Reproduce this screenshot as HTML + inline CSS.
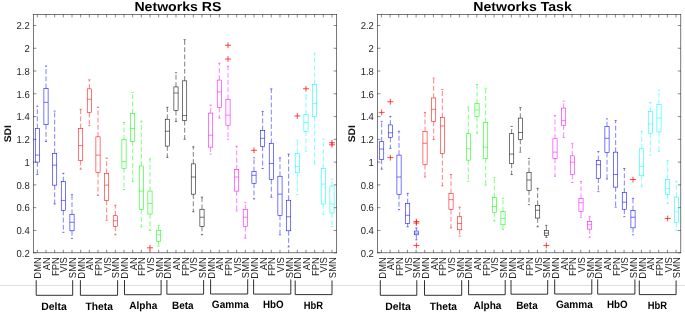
<!DOCTYPE html>
<html lang="en">
<head>
<meta charset="utf-8">
<title>Networks RS / Networks Task SDI boxplots</title>
<style>
html,body{margin:0;padding:0;background:#ffffff}
body{width:685px;height:314px;overflow:hidden}
svg{display:block}
</style>
</head>
<body>
<svg width="685" height="314" viewBox="0 0 685 314">
<style>
text{font-family:"Liberation Sans",sans-serif;fill:#262626;text-rendering:geometricPrecision}
.tl{font-size:9.5px}
.xl{font-size:9.43px}
.yl{font-size:10.4px;font-weight:bold;fill:#111}
.ti{font-size:14.1px;font-weight:bold;fill:#000}
.gl{font-size:10.7px;font-weight:bold;fill:#000}
path{fill:none}
</style>
<rect x="0" y="0" width="685" height="314" fill="#ffffff" stroke="none"/>
<path d="M0 285.5H685" stroke="#dedede" stroke-width="1"/>
<g transform="translate(0,0)">
<rect x="33.3" y="14.4" width="303.4" height="238.4" fill="none" stroke="#262626" stroke-width="0.62"/>
<path d="M37.33 252.8v-3M37.33 14.4v3M46 252.8v-3M46 14.4v3M54.66 252.8v-3M54.66 14.4v3M63.33 252.8v-3M63.33 14.4v3M72 252.8v-3M72 14.4v3M80.66 252.8v-3M80.66 14.4v3M89.33 252.8v-3M89.33 14.4v3M98 252.8v-3M98 14.4v3M106.66 252.8v-3M106.66 14.4v3M115.33 252.8v-3M115.33 14.4v3M123.99 252.8v-3M123.99 14.4v3M132.66 252.8v-3M132.66 14.4v3M141.32 252.8v-3M141.32 14.4v3M149.99 252.8v-3M149.99 14.4v3M158.66 252.8v-3M158.66 14.4v3M167.32 252.8v-3M167.32 14.4v3M175.99 252.8v-3M175.99 14.4v3M184.66 252.8v-3M184.66 14.4v3M193.32 252.8v-3M193.32 14.4v3M201.99 252.8v-3M201.99 14.4v3M210.65 252.8v-3M210.65 14.4v3M219.32 252.8v-3M219.32 14.4v3M227.99 252.8v-3M227.99 14.4v3M236.65 252.8v-3M236.65 14.4v3M245.32 252.8v-3M245.32 14.4v3M253.98 252.8v-3M253.98 14.4v3M262.65 252.8v-3M262.65 14.4v3M271.31 252.8v-3M271.31 14.4v3M279.98 252.8v-3M279.98 14.4v3M288.65 252.8v-3M288.65 14.4v3M297.31 252.8v-3M297.31 14.4v3M305.98 252.8v-3M305.98 14.4v3M314.65 252.8v-3M314.65 14.4v3M323.31 252.8v-3M323.31 14.4v3M331.98 252.8v-3M331.98 14.4v3M33.3 252.8h3M336.7 252.8h-3M33.3 230.43h3M336.7 230.43h-3M33.3 207.66h3M336.7 207.66h-3M33.3 184.89h3M336.7 184.89h-3M33.3 162.12h3M336.7 162.12h-3M33.3 139.35h3M336.7 139.35h-3M33.3 116.58h3M336.7 116.58h-3M33.3 93.81h3M336.7 93.81h-3M33.3 71.04h3M336.7 71.04h-3M33.3 48.27h3M336.7 48.27h-3M33.3 25.5h3M336.7 25.5h-3" stroke="#262626" stroke-width="0.55" fill="none"/>
<g class="tl" text-anchor="end">
<text transform="translate(29.8,257.45) scale(1,1.07)">0.2</text>
<text transform="translate(29.8,234.18) scale(1,1.07)">0.4</text>
<text transform="translate(29.8,211.41) scale(1,1.07)">0.6</text>
<text transform="translate(29.8,188.64) scale(1,1.07)">0.8</text>
<text transform="translate(29.8,165.87) scale(1,1.07)">1</text>
<text transform="translate(29.8,143.1) scale(1,1.07)">1.2</text>
<text transform="translate(29.8,120.33) scale(1,1.07)">1.4</text>
<text transform="translate(29.8,97.56) scale(1,1.07)">1.6</text>
<text transform="translate(29.8,74.79) scale(1,1.07)">1.8</text>
<text transform="translate(29.8,52.02) scale(1,1.07)">2</text>
<text transform="translate(29.8,29.25) scale(1,1.07)">2.2</text>
</g>
<g class="xl" text-anchor="end">
<text transform="translate(41.48,257.2) rotate(-90) scale(1,1.077)">DMN</text>
<text transform="translate(50.15,257.2) rotate(-90) scale(1,1.077)">AN</text>
<text transform="translate(58.82,257.2) rotate(-90) scale(1,1.077)">FPN</text>
<text transform="translate(67.48,257.2) rotate(-90) scale(1,1.077)">VIS</text>
<text transform="translate(76.15,257.2) rotate(-90) scale(1,1.077)">SMN</text>
<text transform="translate(84.81,257.2) rotate(-90) scale(1,1.077)">DMN</text>
<text transform="translate(93.48,257.2) rotate(-90) scale(1,1.077)">AN</text>
<text transform="translate(102.15,257.2) rotate(-90) scale(1,1.077)">FPN</text>
<text transform="translate(110.81,257.2) rotate(-90) scale(1,1.077)">VIS</text>
<text transform="translate(119.48,257.2) rotate(-90) scale(1,1.077)">SMN</text>
<text transform="translate(128.14,257.2) rotate(-90) scale(1,1.077)">DMN</text>
<text transform="translate(136.81,257.2) rotate(-90) scale(1,1.077)">AN</text>
<text transform="translate(145.47,257.2) rotate(-90) scale(1,1.077)">FPN</text>
<text transform="translate(154.14,257.2) rotate(-90) scale(1,1.077)">VIS</text>
<text transform="translate(162.81,257.2) rotate(-90) scale(1,1.077)">SMN</text>
<text transform="translate(171.47,257.2) rotate(-90) scale(1,1.077)">DMN</text>
<text transform="translate(180.14,257.2) rotate(-90) scale(1,1.077)">AN</text>
<text transform="translate(188.8,257.2) rotate(-90) scale(1,1.077)">FPN</text>
<text transform="translate(197.47,257.2) rotate(-90) scale(1,1.077)">VIS</text>
<text transform="translate(206.14,257.2) rotate(-90) scale(1,1.077)">SMN</text>
<text transform="translate(214.8,257.2) rotate(-90) scale(1,1.077)">DMN</text>
<text transform="translate(223.47,257.2) rotate(-90) scale(1,1.077)">AN</text>
<text transform="translate(232.13,257.2) rotate(-90) scale(1,1.077)">FPN</text>
<text transform="translate(240.8,257.2) rotate(-90) scale(1,1.077)">VIS</text>
<text transform="translate(249.47,257.2) rotate(-90) scale(1,1.077)">SMN</text>
<text transform="translate(258.13,257.2) rotate(-90) scale(1,1.077)">DMN</text>
<text transform="translate(266.8,257.2) rotate(-90) scale(1,1.077)">AN</text>
<text transform="translate(275.46,257.2) rotate(-90) scale(1,1.077)">FPN</text>
<text transform="translate(284.13,257.2) rotate(-90) scale(1,1.077)">VIS</text>
<text transform="translate(292.8,257.2) rotate(-90) scale(1,1.077)">SMN</text>
<text transform="translate(301.46,257.2) rotate(-90) scale(1,1.077)">DMN</text>
<text transform="translate(310.13,257.2) rotate(-90) scale(1,1.077)">AN</text>
<text transform="translate(318.8,257.2) rotate(-90) scale(1,1.077)">FPN</text>
<text transform="translate(327.46,257.2) rotate(-90) scale(1,1.077)">VIS</text>
<text transform="translate(336.13,257.2) rotate(-90) scale(1,1.077)">SMN</text>
</g>
<text class="yl" transform="translate(11.1,133.7) rotate(-90) scale(1,0.93)" text-anchor="middle">SDI</text>
<text class="ti" transform="translate(177.9,10.8) scale(1,0.92)" text-anchor="middle">Networks RS</text>
<g stroke="#0000ff" stroke-width="0.54" fill="none">
<path d="M37.33 128.49V106.11M37.33 162.07V174.52" stroke-dasharray="4.8 2.4" stroke-width="0.5"/>
<path d="M36.23 106.11h2.2M36.23 174.52h2.2M35.23 155.1H39.43"/>
<rect x="35.23" y="128.49" width="4.2" height="33.57"/>
</g>
<g stroke="#0000ff" stroke-width="0.54" fill="none">
<path d="M46 88.41V66.03M46 124.73V141.51" stroke-dasharray="4.8 2.4" stroke-width="0.5"/>
<path d="M44.9 66.03h2.2M44.9 141.51h2.2M43.9 102.34H48.1"/>
<rect x="43.9" y="88.41" width="4.2" height="36.32"/>
</g>
<g stroke="#0000ff" stroke-width="0.54" fill="none">
<path d="M54.66 153.28V111.14M54.66 185.14V203.98" stroke-dasharray="4.8 2.4" stroke-width="0.5"/>
<path d="M53.56 111.14h2.2M53.56 203.98h2.2M52.56 165.15H56.77"/>
<rect x="52.56" y="153.28" width="4.2" height="31.86"/>
</g>
<g stroke="#0000ff" stroke-width="0.54" fill="none">
<path d="M63.33 181.6V173.26M63.33 210.49V232.3" stroke-dasharray="4.8 2.4" stroke-width="0.5"/>
<path d="M62.23 173.26h2.2M62.23 232.3h2.2M61.23 200.44H65.43"/>
<rect x="61.23" y="181.6" width="4.2" height="28.89"/>
</g>
<g stroke="#0000ff" stroke-width="0.54" fill="none">
<path d="M72 214.26V194.62M72 230.82V238.35" stroke-dasharray="4.8 2.4" stroke-width="0.5"/>
<path d="M70.9 194.62h2.2M70.9 238.35h2.2M69.9 222.25H74.1"/>
<rect x="69.9" y="214.26" width="4.2" height="16.56"/>
</g>
<g stroke="#ff0000" stroke-width="0.54" fill="none">
<path d="M80.66 128.49V109.31M80.66 160.36V169.15" stroke-dasharray="4.8 2.4" stroke-width="0.5"/>
<path d="M79.56 109.31h2.2M79.56 169.15h2.2M78.56 145.62H82.76"/>
<rect x="78.56" y="128.49" width="4.2" height="31.86"/>
</g>
<g stroke="#ff0000" stroke-width="0.54" fill="none">
<path d="M89.33 88.87V79.85M89.33 112.62V125.75" stroke-dasharray="4.8 2.4" stroke-width="0.5"/>
<path d="M88.23 79.85h2.2M88.23 125.75h2.2M87.23 99.26H91.43"/>
<rect x="87.23" y="88.87" width="4.2" height="23.75"/>
</g>
<g stroke="#ff0000" stroke-width="0.54" fill="none">
<path d="M98 136.83V107.25M98 172.46V195.42" stroke-dasharray="4.8 2.4" stroke-width="0.5"/>
<path d="M96.9 107.25h2.2M96.9 195.42h2.2M95.9 155.1H100.09"/>
<rect x="95.9" y="136.83" width="4.2" height="35.63"/>
</g>
<g stroke="#ff0000" stroke-width="0.54" fill="none">
<path d="M106.66 173.26V158.07M106.66 200.44V220.31" stroke-dasharray="4.8 2.4" stroke-width="0.5"/>
<path d="M105.56 158.07h2.2M105.56 220.31h2.2M104.56 185.14H108.76"/>
<rect x="104.56" y="173.26" width="4.2" height="27.18"/>
</g>
<g stroke="#ff0000" stroke-width="0.54" fill="none">
<path d="M115.33 215.74V205.24M115.33 226.36V234.81" stroke-dasharray="4.8 2.4" stroke-width="0.5"/>
<path d="M114.23 205.24h2.2M114.23 234.81h2.2M113.23 220.77H117.43"/>
<rect x="113.23" y="215.74" width="4.2" height="10.62"/>
</g>
<g stroke="#00ff00" stroke-width="0.54" fill="none">
<path d="M123.99 139.46V122.44M123.99 168.24V189.59" stroke-dasharray="4.8 2.4" stroke-width="0.5"/>
<path d="M122.89 122.44h2.2M122.89 189.59h2.2M121.89 161.61H126.09"/>
<rect x="121.89" y="139.46" width="4.2" height="28.78"/>
</g>
<g stroke="#00ff00" stroke-width="0.54" fill="none">
<path d="M132.66 113.53V92.41M132.66 141.28V181.6" stroke-dasharray="4.8 2.4" stroke-width="0.5"/>
<path d="M131.56 92.41h2.2M131.56 181.6h2.2M130.56 128.49H134.76"/>
<rect x="130.56" y="113.53" width="4.2" height="27.75"/>
</g>
<g stroke="#00ff00" stroke-width="0.54" fill="none">
<path d="M141.32 165.95V121.19M141.32 209.69V226.82" stroke-dasharray="4.8 2.4" stroke-width="0.5"/>
<path d="M140.22 121.19h2.2M140.22 226.82h2.2M139.22 191.08H143.42"/>
<rect x="139.22" y="165.95" width="4.2" height="43.74"/>
</g>
<g stroke="#00ff00" stroke-width="0.54" fill="none">
<path d="M149.99 191.08V158.87M149.99 214.03V230.36" stroke-dasharray="4.8 2.4" stroke-width="0.5"/>
<path d="M148.89 158.87h2.2M148.89 230.36h2.2M147.89 203.41H152.09"/>
<rect x="147.89" y="191.08" width="4.2" height="22.95"/>
</g>
<path d="M146.99 247.83h6M149.99 244.93v5.8" stroke="#ff0000" stroke-width="0.72"/>
<g stroke="#00ff00" stroke-width="0.54" fill="none">
<path d="M158.66 230.36V225.34M158.66 241.21V246.23" stroke-dasharray="4.8 2.4" stroke-width="0.5"/>
<path d="M157.56 225.34h2.2M157.56 246.23h2.2M156.56 234.81H160.76"/>
<rect x="156.56" y="230.36" width="4.2" height="10.85"/>
</g>
<g stroke="#000000" stroke-width="0.54" fill="none">
<path d="M167.32 119.24V107.25M167.32 146.08V157.39" stroke-dasharray="4.8 2.4" stroke-width="0.5"/>
<path d="M166.22 107.25h2.2M166.22 157.39h2.2M165.22 131.24H169.42"/>
<rect x="165.22" y="119.24" width="4.2" height="26.84"/>
</g>
<g stroke="#000000" stroke-width="0.54" fill="none">
<path d="M175.99 86.93V72.76M175.99 110.56V121.41" stroke-dasharray="4.8 2.4" stroke-width="0.5"/>
<path d="M174.89 72.76h2.2M174.89 121.41h2.2M173.89 92.98H178.09"/>
<rect x="173.89" y="86.93" width="4.2" height="23.64"/>
</g>
<g stroke="#000000" stroke-width="0.54" fill="none">
<path d="M184.66 80.87V39.65M184.66 120.61V139.23" stroke-dasharray="4.8 2.4" stroke-width="0.5"/>
<path d="M183.56 39.65h2.2M183.56 139.23h2.2M182.56 115.59H186.75"/>
<rect x="182.56" y="80.87" width="4.2" height="39.74"/>
</g>
<g stroke="#000000" stroke-width="0.54" fill="none">
<path d="M193.32 163.9V146.77M193.32 194.16V211.75" stroke-dasharray="4.8 2.4" stroke-width="0.5"/>
<path d="M192.22 146.77h2.2M192.22 211.75h2.2M191.22 177.03H195.42"/>
<rect x="191.22" y="163.9" width="4.2" height="30.26"/>
</g>
<g stroke="#000000" stroke-width="0.54" fill="none">
<path d="M201.99 209.23V197.13M201.99 226.59V234.81" stroke-dasharray="4.8 2.4" stroke-width="0.5"/>
<path d="M200.89 197.13h2.2M200.89 234.81h2.2M199.89 217.23H204.09"/>
<rect x="199.89" y="209.23" width="4.2" height="17.36"/>
</g>
<g stroke="#ff00ff" stroke-width="0.54" fill="none">
<path d="M210.65 113.08V105.08M210.65 147.11V154.08" stroke-dasharray="4.8 2.4" stroke-width="0.5"/>
<path d="M209.55 105.08h2.2M209.55 154.08h2.2M208.55 135.23H212.75"/>
<rect x="208.55" y="113.08" width="4.2" height="34.03"/>
</g>
<g stroke="#ff00ff" stroke-width="0.54" fill="none">
<path d="M219.32 80.07V63.29M219.32 107.6V118.1" stroke-dasharray="4.8 2.4" stroke-width="0.5"/>
<path d="M218.22 63.29h2.2M218.22 118.1h2.2M217.22 91.95H221.42"/>
<rect x="217.22" y="80.07" width="4.2" height="27.52"/>
</g>
<g stroke="#ff00ff" stroke-width="0.54" fill="none">
<path d="M227.99 99.26V66.26M227.99 125.18V139.23" stroke-dasharray="4.8 2.4" stroke-width="0.5"/>
<path d="M226.89 66.26h2.2M226.89 139.23h2.2M225.89 115.13H230.09"/>
<rect x="225.89" y="99.26" width="4.2" height="25.92"/>
</g>
<path d="M224.99 45.24h6M227.99 42.34v5.8M224.99 59.06h6M227.99 56.16v5.8" stroke="#ff0000" stroke-width="0.72"/>
<g stroke="#ff00ff" stroke-width="0.54" fill="none">
<path d="M236.65 169.72V146.31M236.65 191.08V210.95" stroke-dasharray="4.8 2.4" stroke-width="0.5"/>
<path d="M235.55 146.31h2.2M235.55 210.95h2.2M234.55 177.03H238.75"/>
<rect x="234.55" y="169.72" width="4.2" height="21.36"/>
</g>
<g stroke="#ff00ff" stroke-width="0.54" fill="none">
<path d="M245.32 209.69V202.72M245.32 226.59V238.13" stroke-dasharray="4.8 2.4" stroke-width="0.5"/>
<path d="M244.22 202.72h2.2M244.22 238.13h2.2M243.22 217.23H247.42"/>
<rect x="243.22" y="209.69" width="4.2" height="16.9"/>
</g>
<g stroke="#0000ff" stroke-width="0.54" fill="none">
<path d="M253.98 171.43V157.84M253.98 183.31V198.96" stroke-dasharray="4.8 2.4" stroke-width="0.5"/>
<path d="M252.88 157.84h2.2M252.88 198.96h2.2M251.88 175.32H256.08"/>
<rect x="251.88" y="171.43" width="4.2" height="11.88"/>
</g>
<path d="M250.98 150.31h6M253.98 147.41v5.8" stroke="#ff0000" stroke-width="0.72"/>
<g stroke="#0000ff" stroke-width="0.54" fill="none">
<path d="M262.65 130.44V111.36M262.65 146.31V168.46" stroke-dasharray="4.8 2.4" stroke-width="0.5"/>
<path d="M261.55 111.36h2.2M261.55 168.46h2.2M260.55 138.32H264.75"/>
<rect x="260.55" y="130.44" width="4.2" height="15.87"/>
</g>
<g stroke="#0000ff" stroke-width="0.54" fill="none">
<path d="M271.31 143.34V88.87M271.31 179.54V197.13" stroke-dasharray="4.8 2.4" stroke-width="0.5"/>
<path d="M270.21 88.87h2.2M270.21 197.13h2.2M269.21 163.44H273.42"/>
<rect x="269.21" y="143.34" width="4.2" height="36.2"/>
</g>
<g stroke="#0000ff" stroke-width="0.54" fill="none">
<path d="M279.98 176.23V157.84M279.98 215.29V234.81" stroke-dasharray="4.8 2.4" stroke-width="0.5"/>
<path d="M278.88 157.84h2.2M278.88 234.81h2.2M277.88 194.16H282.08"/>
<rect x="277.88" y="176.23" width="4.2" height="39.06"/>
</g>
<g stroke="#0000ff" stroke-width="0.54" fill="none">
<path d="M288.65 200.21V154.08M288.65 230.82V246.92" stroke-dasharray="4.8 2.4" stroke-width="0.5"/>
<path d="M287.55 154.08h2.2M287.55 246.92h2.2M286.55 216.77H290.75"/>
<rect x="286.55" y="200.21" width="4.2" height="30.61"/>
</g>
<g stroke="#00ffff" stroke-width="0.54" fill="none">
<path d="M297.31 153.39V140.26M297.31 172.8V194.62" stroke-dasharray="4.8 2.4" stroke-width="0.5"/>
<path d="M296.21 140.26h2.2M296.21 194.62h2.2M295.21 166.64H299.41"/>
<rect x="295.21" y="153.39" width="4.2" height="19.41"/>
</g>
<path d="M294.31 115.93h6M297.31 113.03v5.8" stroke="#ff0000" stroke-width="0.72"/>
<g stroke="#00ffff" stroke-width="0.54" fill="none">
<path d="M305.98 114.68V95.03M305.98 131.24V151.33" stroke-dasharray="4.8 2.4" stroke-width="0.5"/>
<path d="M304.88 95.03h2.2M304.88 151.33h2.2M303.88 122.44H308.08"/>
<rect x="303.88" y="114.68" width="4.2" height="16.56"/>
</g>
<path d="M302.98 88.75h6M305.98 85.85v5.8" stroke="#ff0000" stroke-width="0.72"/>
<g stroke="#00ffff" stroke-width="0.54" fill="none">
<path d="M314.65 84.41V53.24M314.65 116.39V163.9" stroke-dasharray="4.8 2.4" stroke-width="0.5"/>
<path d="M313.55 53.24h2.2M313.55 163.9h2.2M312.55 103.6H316.75"/>
<rect x="312.55" y="84.41" width="4.2" height="31.98"/>
</g>
<g stroke="#00ffff" stroke-width="0.54" fill="none">
<path d="M323.31 168.46V139.23M323.31 203.98V214.26" stroke-dasharray="4.8 2.4" stroke-width="0.5"/>
<path d="M322.21 139.23h2.2M322.21 214.26h2.2M321.21 184.11H325.41"/>
<rect x="321.21" y="168.46" width="4.2" height="35.52"/>
</g>
<g stroke="#00ffff" stroke-width="0.54" fill="none">
<path d="M331.98 186.05V179.08M331.98 213V226.59" stroke-dasharray="4.8 2.4" stroke-width="0.5"/>
<path d="M330.88 179.08h2.2M330.88 226.59h2.2M329.88 203.98H334.08"/>
<rect x="329.88" y="186.05" width="4.2" height="26.95"/>
</g>
<path d="M328.98 142.77h6M331.98 139.87v5.8M328.98 144.82h6M331.98 141.92v5.8" stroke="#ff0000" stroke-width="0.72"/>
<path d="M36.2 280.2V295.3H72.7V280.2M80.4 280.2V295.3H117.6V280.2M124.5 280V294.7H161.1V280M166.9 280V294.2H203.6V280M210.6 279.3V294H247.7V279.3M253.6 279.4V294.1H290.8V279.4M295.2 280.5V294.6H332V280.5" stroke="#1a1a1a" stroke-width="0.9"/>
<text class="gl" x="53.95" y="309.5" text-anchor="middle" textLength="25.5" lengthAdjust="spacingAndGlyphs">Delta</text>
<text class="gl" x="99.25" y="309.5" text-anchor="middle" textLength="27.3" lengthAdjust="spacingAndGlyphs">Theta</text>
<text class="gl" x="143.3" y="308.9" text-anchor="middle" textLength="28" lengthAdjust="spacingAndGlyphs">Alpha</text>
<text class="gl" x="182.85" y="308.5" text-anchor="middle" textLength="21.5" lengthAdjust="spacingAndGlyphs">Beta</text>
<text class="gl" x="230.3" y="307.7" text-anchor="middle" textLength="37" lengthAdjust="spacingAndGlyphs">Gamma</text>
<text class="gl" x="273.25" y="307.8" text-anchor="middle" textLength="20.7" lengthAdjust="spacingAndGlyphs">HbO</text>
<text class="gl" x="313.35" y="308.5" text-anchor="middle" textLength="19.3" lengthAdjust="spacingAndGlyphs">HbR</text>
</g>
<g transform="translate(344.1,0)">
<rect x="33.3" y="14.4" width="303.4" height="238.4" fill="none" stroke="#262626" stroke-width="0.62"/>
<path d="M37.33 252.8v-3M37.33 14.4v3M46 252.8v-3M46 14.4v3M54.66 252.8v-3M54.66 14.4v3M63.33 252.8v-3M63.33 14.4v3M72 252.8v-3M72 14.4v3M80.66 252.8v-3M80.66 14.4v3M89.33 252.8v-3M89.33 14.4v3M98 252.8v-3M98 14.4v3M106.66 252.8v-3M106.66 14.4v3M115.33 252.8v-3M115.33 14.4v3M123.99 252.8v-3M123.99 14.4v3M132.66 252.8v-3M132.66 14.4v3M141.32 252.8v-3M141.32 14.4v3M149.99 252.8v-3M149.99 14.4v3M158.66 252.8v-3M158.66 14.4v3M167.32 252.8v-3M167.32 14.4v3M175.99 252.8v-3M175.99 14.4v3M184.66 252.8v-3M184.66 14.4v3M193.32 252.8v-3M193.32 14.4v3M201.99 252.8v-3M201.99 14.4v3M210.65 252.8v-3M210.65 14.4v3M219.32 252.8v-3M219.32 14.4v3M227.99 252.8v-3M227.99 14.4v3M236.65 252.8v-3M236.65 14.4v3M245.32 252.8v-3M245.32 14.4v3M253.98 252.8v-3M253.98 14.4v3M262.65 252.8v-3M262.65 14.4v3M271.31 252.8v-3M271.31 14.4v3M279.98 252.8v-3M279.98 14.4v3M288.65 252.8v-3M288.65 14.4v3M297.31 252.8v-3M297.31 14.4v3M305.98 252.8v-3M305.98 14.4v3M314.65 252.8v-3M314.65 14.4v3M323.31 252.8v-3M323.31 14.4v3M331.98 252.8v-3M331.98 14.4v3M33.3 252.8h3M336.7 252.8h-3M33.3 230.43h3M336.7 230.43h-3M33.3 207.66h3M336.7 207.66h-3M33.3 184.89h3M336.7 184.89h-3M33.3 162.12h3M336.7 162.12h-3M33.3 139.35h3M336.7 139.35h-3M33.3 116.58h3M336.7 116.58h-3M33.3 93.81h3M336.7 93.81h-3M33.3 71.04h3M336.7 71.04h-3M33.3 48.27h3M336.7 48.27h-3M33.3 25.5h3M336.7 25.5h-3" stroke="#262626" stroke-width="0.55" fill="none"/>
<g class="tl" text-anchor="end">
<text transform="translate(29.8,257.45) scale(1,1.07)">0.2</text>
<text transform="translate(29.8,234.18) scale(1,1.07)">0.4</text>
<text transform="translate(29.8,211.41) scale(1,1.07)">0.6</text>
<text transform="translate(29.8,188.64) scale(1,1.07)">0.8</text>
<text transform="translate(29.8,165.87) scale(1,1.07)">1</text>
<text transform="translate(29.8,143.1) scale(1,1.07)">1.2</text>
<text transform="translate(29.8,120.33) scale(1,1.07)">1.4</text>
<text transform="translate(29.8,97.56) scale(1,1.07)">1.6</text>
<text transform="translate(29.8,74.79) scale(1,1.07)">1.8</text>
<text transform="translate(29.8,52.02) scale(1,1.07)">2</text>
<text transform="translate(29.8,29.25) scale(1,1.07)">2.2</text>
</g>
<g class="xl" text-anchor="end">
<text transform="translate(41.48,257.2) rotate(-90) scale(1,1.077)">DMN</text>
<text transform="translate(50.15,257.2) rotate(-90) scale(1,1.077)">AN</text>
<text transform="translate(58.82,257.2) rotate(-90) scale(1,1.077)">FPN</text>
<text transform="translate(67.48,257.2) rotate(-90) scale(1,1.077)">VIS</text>
<text transform="translate(76.15,257.2) rotate(-90) scale(1,1.077)">SMN</text>
<text transform="translate(84.81,257.2) rotate(-90) scale(1,1.077)">DMN</text>
<text transform="translate(93.48,257.2) rotate(-90) scale(1,1.077)">AN</text>
<text transform="translate(102.15,257.2) rotate(-90) scale(1,1.077)">FPN</text>
<text transform="translate(110.81,257.2) rotate(-90) scale(1,1.077)">VIS</text>
<text transform="translate(119.48,257.2) rotate(-90) scale(1,1.077)">SMN</text>
<text transform="translate(128.14,257.2) rotate(-90) scale(1,1.077)">DMN</text>
<text transform="translate(136.81,257.2) rotate(-90) scale(1,1.077)">AN</text>
<text transform="translate(145.47,257.2) rotate(-90) scale(1,1.077)">FPN</text>
<text transform="translate(154.14,257.2) rotate(-90) scale(1,1.077)">VIS</text>
<text transform="translate(162.81,257.2) rotate(-90) scale(1,1.077)">SMN</text>
<text transform="translate(171.47,257.2) rotate(-90) scale(1,1.077)">DMN</text>
<text transform="translate(180.14,257.2) rotate(-90) scale(1,1.077)">AN</text>
<text transform="translate(188.8,257.2) rotate(-90) scale(1,1.077)">FPN</text>
<text transform="translate(197.47,257.2) rotate(-90) scale(1,1.077)">VIS</text>
<text transform="translate(206.14,257.2) rotate(-90) scale(1,1.077)">SMN</text>
<text transform="translate(214.8,257.2) rotate(-90) scale(1,1.077)">DMN</text>
<text transform="translate(223.47,257.2) rotate(-90) scale(1,1.077)">AN</text>
<text transform="translate(232.13,257.2) rotate(-90) scale(1,1.077)">FPN</text>
<text transform="translate(240.8,257.2) rotate(-90) scale(1,1.077)">VIS</text>
<text transform="translate(249.47,257.2) rotate(-90) scale(1,1.077)">SMN</text>
<text transform="translate(258.13,257.2) rotate(-90) scale(1,1.077)">DMN</text>
<text transform="translate(266.8,257.2) rotate(-90) scale(1,1.077)">AN</text>
<text transform="translate(275.46,257.2) rotate(-90) scale(1,1.077)">FPN</text>
<text transform="translate(284.13,257.2) rotate(-90) scale(1,1.077)">VIS</text>
<text transform="translate(292.8,257.2) rotate(-90) scale(1,1.077)">SMN</text>
<text transform="translate(301.46,257.2) rotate(-90) scale(1,1.077)">DMN</text>
<text transform="translate(310.13,257.2) rotate(-90) scale(1,1.077)">AN</text>
<text transform="translate(318.8,257.2) rotate(-90) scale(1,1.077)">FPN</text>
<text transform="translate(327.46,257.2) rotate(-90) scale(1,1.077)">VIS</text>
<text transform="translate(336.13,257.2) rotate(-90) scale(1,1.077)">SMN</text>
</g>
<text class="yl" transform="translate(11.1,133.7) rotate(-90) scale(1,0.93)" text-anchor="middle">SDI</text>
<text class="ti" transform="translate(178.4,10.8) scale(1,0.92)" text-anchor="middle">Networks Task</text>
<g stroke="#0000ff" stroke-width="0.54" fill="none">
<path d="M37.58 141.74V121.41M37.58 159.33V169.15" stroke-dasharray="4.8 2.4" stroke-width="0.5"/>
<path d="M36.48 121.41h2.2M36.48 169.15h2.2M35.48 149.05H39.68"/>
<rect x="35.48" y="141.74" width="4.2" height="17.59"/>
</g>
<path d="M34.58 112.39h6M37.58 109.49v5.8" stroke="#ff0000" stroke-width="0.72"/>
<g stroke="#0000ff" stroke-width="0.54" fill="none">
<path d="M46.25 124.95V116.39M46.25 137.52V148.37" stroke-dasharray="4.8 2.4" stroke-width="0.5"/>
<path d="M45.15 116.39h2.2M45.15 148.37h2.2M44.15 132.72H48.35"/>
<rect x="44.15" y="124.95" width="4.2" height="12.56"/>
</g>
<path d="M43.25 101.77h6M46.25 98.87v5.8M43.25 157.62h6M46.25 154.72v5.8" stroke="#ff0000" stroke-width="0.72"/>
<g stroke="#0000ff" stroke-width="0.54" fill="none">
<path d="M54.91 155.1V131.24M54.91 194.62V209.69" stroke-dasharray="4.8 2.4" stroke-width="0.5"/>
<path d="M53.81 131.24h2.2M53.81 209.69h2.2M52.81 177.03H57.02"/>
<rect x="52.81" y="155.1" width="4.2" height="39.51"/>
</g>
<g stroke="#0000ff" stroke-width="0.54" fill="none">
<path d="M63.58 203.41V193.36M63.58 223.28V226.82" stroke-dasharray="4.8 2.4" stroke-width="0.5"/>
<path d="M62.48 193.36h2.2M62.48 226.82h2.2M61.48 215.29H65.68"/>
<rect x="61.48" y="203.41" width="4.2" height="19.87"/>
</g>
<g stroke="#0000ff" stroke-width="0.54" fill="none">
<path d="M72.25 231.05V227.85M72.25 234.81V239.84" stroke-dasharray="4.8 2.4" stroke-width="0.5"/>
<path d="M71.15 227.85h2.2M71.15 239.84h2.2M70.15 233.1H74.35"/>
<rect x="70.15" y="231.05" width="4.2" height="3.77"/>
</g>
<path d="M69.25 221.57h6M72.25 218.67v5.8M69.25 223.05h6M72.25 220.15v5.8M69.25 245.44h6M72.25 242.54v5.8" stroke="#ff0000" stroke-width="0.72"/>
<g stroke="#ff0000" stroke-width="0.54" fill="none">
<path d="M80.91 131.46V112.39M80.91 164.7V177.03" stroke-dasharray="4.8 2.4" stroke-width="0.5"/>
<path d="M79.81 112.39h2.2M79.81 177.03h2.2M78.81 143.34H83.01"/>
<rect x="78.81" y="131.46" width="4.2" height="33.23"/>
</g>
<g stroke="#ff0000" stroke-width="0.54" fill="none">
<path d="M89.58 98V78.13M89.58 121.41V139.57" stroke-dasharray="4.8 2.4" stroke-width="0.5"/>
<path d="M88.48 78.13h2.2M88.48 139.57h2.2M87.48 109.31H91.68"/>
<rect x="87.48" y="98" width="4.2" height="23.41"/>
</g>
<g stroke="#ff0000" stroke-width="0.54" fill="none">
<path d="M98.25 117.42V89.44M98.25 153.39V185.82" stroke-dasharray="4.8 2.4" stroke-width="0.5"/>
<path d="M97.15 89.44h2.2M97.15 185.82h2.2M96.15 125.98H100.34"/>
<rect x="96.15" y="117.42" width="4.2" height="35.97"/>
</g>
<g stroke="#ff0000" stroke-width="0.54" fill="none">
<path d="M106.91 193.36V174.52M106.91 209.69V227.85" stroke-dasharray="4.8 2.4" stroke-width="0.5"/>
<path d="M105.81 174.52h2.2M105.81 227.85h2.2M104.81 199.64H109.01"/>
<rect x="104.81" y="193.36" width="4.2" height="16.33"/>
</g>
<g stroke="#ff0000" stroke-width="0.54" fill="none">
<path d="M115.58 216.77V207.18M115.58 229.79V236.07" stroke-dasharray="4.8 2.4" stroke-width="0.5"/>
<path d="M114.48 207.18h2.2M114.48 236.07h2.2M113.48 223.51H117.68"/>
<rect x="113.48" y="216.77" width="4.2" height="13.02"/>
</g>
<g stroke="#00ff00" stroke-width="0.54" fill="none">
<path d="M124.24 133.75V106.8M124.24 160.13V181.25" stroke-dasharray="4.8 2.4" stroke-width="0.5"/>
<path d="M123.14 106.8h2.2M123.14 181.25h2.2M122.14 148.82H126.34"/>
<rect x="122.14" y="133.75" width="4.2" height="26.38"/>
</g>
<g stroke="#00ff00" stroke-width="0.54" fill="none">
<path d="M132.91 103.6V84.41M132.91 116.39V133.18" stroke-dasharray="4.8 2.4" stroke-width="0.5"/>
<path d="M131.81 84.41h2.2M131.81 133.18h2.2M130.81 109.88H135.01"/>
<rect x="130.81" y="103.6" width="4.2" height="12.79"/>
</g>
<g stroke="#00ff00" stroke-width="0.54" fill="none">
<path d="M141.57 122.44V88.18M141.57 158.41V185.14" stroke-dasharray="4.8 2.4" stroke-width="0.5"/>
<path d="M140.47 88.18h2.2M140.47 185.14h2.2M139.47 147.11H143.67"/>
<rect x="139.47" y="122.44" width="4.2" height="35.97"/>
</g>
<g stroke="#00ff00" stroke-width="0.54" fill="none">
<path d="M150.24 197.7V177.49M150.24 212.2V221" stroke-dasharray="4.8 2.4" stroke-width="0.5"/>
<path d="M149.14 177.49h2.2M149.14 221h2.2M148.14 206.49H152.34"/>
<rect x="148.14" y="197.7" width="4.2" height="14.5"/>
</g>
<g stroke="#00ff00" stroke-width="0.54" fill="none">
<path d="M158.91 211.52V198.38M158.91 224.76V229.33" stroke-dasharray="4.8 2.4" stroke-width="0.5"/>
<path d="M157.81 198.38h2.2M157.81 229.33h2.2M156.81 218.48H161.01"/>
<rect x="156.81" y="211.52" width="4.2" height="13.25"/>
</g>
<g stroke="#000000" stroke-width="0.54" fill="none">
<path d="M167.57 133.75V126.44M167.57 163.44V174.52" stroke-dasharray="4.8 2.4" stroke-width="0.5"/>
<path d="M166.47 126.44h2.2M166.47 174.52h2.2M165.47 154.08H169.67"/>
<rect x="165.47" y="133.75" width="4.2" height="29.69"/>
</g>
<g stroke="#000000" stroke-width="0.54" fill="none">
<path d="M176.24 118.1V107.6M176.24 139.46V152.13" stroke-dasharray="4.8 2.4" stroke-width="0.5"/>
<path d="M175.14 107.6h2.2M175.14 152.13h2.2M174.14 132.49H178.34"/>
<rect x="174.14" y="118.1" width="4.2" height="21.36"/>
</g>
<g stroke="#000000" stroke-width="0.54" fill="none">
<path d="M184.91 172.46V158.41M184.91 190.39V204.67" stroke-dasharray="4.8 2.4" stroke-width="0.5"/>
<path d="M183.81 158.41h2.2M183.81 204.67h2.2M182.81 180H187"/>
<rect x="182.81" y="172.46" width="4.2" height="17.93"/>
</g>
<g stroke="#000000" stroke-width="0.54" fill="none">
<path d="M193.57 205.24V188.34M193.57 218.03V226.82" stroke-dasharray="4.8 2.4" stroke-width="0.5"/>
<path d="M192.47 188.34h2.2M192.47 226.82h2.2M191.47 210.26H195.67"/>
<rect x="191.47" y="205.24" width="4.2" height="12.79"/>
</g>
<g stroke="#000000" stroke-width="0.54" fill="none">
<path d="M202.24 230.36V225.34M202.24 235.39V237.33" stroke-dasharray="4.8 2.4" stroke-width="0.5"/>
<path d="M201.14 225.34h2.2M201.14 237.33h2.2M200.14 233.1H204.34"/>
<rect x="200.14" y="230.36" width="4.2" height="5.02"/>
</g>
<path d="M199.24 245.44h6M202.24 242.54v5.8" stroke="#ff0000" stroke-width="0.72"/>
<g stroke="#ff00ff" stroke-width="0.54" fill="none">
<path d="M210.9 138.77V115.59M210.9 158.41V176.23" stroke-dasharray="4.8 2.4" stroke-width="0.5"/>
<path d="M209.8 115.59h2.2M209.8 176.23h2.2M208.8 152.13H213"/>
<rect x="208.8" y="138.77" width="4.2" height="19.64"/>
</g>
<g stroke="#ff00ff" stroke-width="0.54" fill="none">
<path d="M219.57 108.05V101.09M219.57 125.18V137.52" stroke-dasharray="4.8 2.4" stroke-width="0.5"/>
<path d="M218.47 101.09h2.2M218.47 137.52h2.2M217.47 120.61H221.67"/>
<rect x="217.47" y="108.05" width="4.2" height="17.13"/>
</g>
<g stroke="#ff00ff" stroke-width="0.54" fill="none">
<path d="M228.24 155.9V143.34M228.24 174.52V182.51" stroke-dasharray="4.8 2.4" stroke-width="0.5"/>
<path d="M227.14 143.34h2.2M227.14 182.51h2.2M226.14 162.18H230.34"/>
<rect x="226.14" y="155.9" width="4.2" height="18.61"/>
</g>
<g stroke="#ff00ff" stroke-width="0.54" fill="none">
<path d="M236.9 198.38V181.6M236.9 211.52V217.23" stroke-dasharray="4.8 2.4" stroke-width="0.5"/>
<path d="M235.8 181.6h2.2M235.8 217.23h2.2M234.8 202.72H239"/>
<rect x="234.8" y="198.38" width="4.2" height="13.13"/>
</g>
<g stroke="#ff00ff" stroke-width="0.54" fill="none">
<path d="M245.57 221.57V216.77M245.57 229.1V237.33" stroke-dasharray="4.8 2.4" stroke-width="0.5"/>
<path d="M244.47 216.77h2.2M244.47 237.33h2.2M243.47 224.76H247.67"/>
<rect x="243.47" y="221.57" width="4.2" height="7.54"/>
</g>
<g stroke="#0000ff" stroke-width="0.54" fill="none">
<path d="M254.23 160.36V151.56M254.23 178.29V191.65" stroke-dasharray="4.8 2.4" stroke-width="0.5"/>
<path d="M253.13 151.56h2.2M253.13 191.65h2.2M252.13 164.7H256.33"/>
<rect x="252.13" y="160.36" width="4.2" height="17.93"/>
</g>
<g stroke="#0000ff" stroke-width="0.54" fill="none">
<path d="M262.9 126.44V118.9M262.9 152.59V179.08" stroke-dasharray="4.8 2.4" stroke-width="0.5"/>
<path d="M261.8 118.9h2.2M261.8 179.08h2.2M260.8 138.32H265"/>
<rect x="260.8" y="126.44" width="4.2" height="26.15"/>
</g>
<g stroke="#0000ff" stroke-width="0.54" fill="none">
<path d="M271.56 152.13V120.61M271.56 187.08V207.18" stroke-dasharray="4.8 2.4" stroke-width="0.5"/>
<path d="M270.46 120.61h2.2M270.46 207.18h2.2M269.46 174.52H273.67"/>
<rect x="269.46" y="152.13" width="4.2" height="34.95"/>
</g>
<g stroke="#0000ff" stroke-width="0.54" fill="none">
<path d="M280.23 192.67V168.46M280.23 209.23V216.77" stroke-dasharray="4.8 2.4" stroke-width="0.5"/>
<path d="M279.13 168.46h2.2M279.13 216.77h2.2M278.13 202.15H282.33"/>
<rect x="278.13" y="192.67" width="4.2" height="16.56"/>
</g>
<g stroke="#0000ff" stroke-width="0.54" fill="none">
<path d="M288.9 210.49V198.38M288.9 227.85V234.81" stroke-dasharray="4.8 2.4" stroke-width="0.5"/>
<path d="M287.8 198.38h2.2M287.8 234.81h2.2M286.8 217.23H291"/>
<rect x="286.8" y="210.49" width="4.2" height="17.36"/>
</g>
<path d="M285.9 179.54h6M288.9 176.64v5.8" stroke="#ff0000" stroke-width="0.72"/>
<g stroke="#00ffff" stroke-width="0.54" fill="none">
<path d="M297.56 148.82V131.24M297.56 175.77V186.28" stroke-dasharray="4.8 2.4" stroke-width="0.5"/>
<path d="M296.46 131.24h2.2M296.46 186.28h2.2M295.46 166.41H299.66"/>
<rect x="295.46" y="148.82" width="4.2" height="26.95"/>
</g>
<g stroke="#00ffff" stroke-width="0.54" fill="none">
<path d="M306.23 111.36V102.57M306.23 133.18V155.1" stroke-dasharray="4.8 2.4" stroke-width="0.5"/>
<path d="M305.13 102.57h2.2M305.13 155.1h2.2M304.13 123.93H308.33"/>
<rect x="304.13" y="111.36" width="4.2" height="21.81"/>
</g>
<g stroke="#00ffff" stroke-width="0.54" fill="none">
<path d="M314.9 104.28V90.24M314.9 131.92V151.33" stroke-dasharray="4.8 2.4" stroke-width="0.5"/>
<path d="M313.8 90.24h2.2M313.8 151.33h2.2M312.8 118.1H317"/>
<rect x="312.8" y="104.28" width="4.2" height="27.64"/>
</g>
<g stroke="#00ffff" stroke-width="0.54" fill="none">
<path d="M323.56 179.54V160.36M323.56 194.62V203.41" stroke-dasharray="4.8 2.4" stroke-width="0.5"/>
<path d="M322.46 160.36h2.2M322.46 203.41h2.2M321.46 188.34H325.66"/>
<rect x="321.46" y="179.54" width="4.2" height="15.07"/>
</g>
<path d="M320.56 218.48h6M323.56 215.58v5.8" stroke="#ff0000" stroke-width="0.72"/>
<g stroke="#00ffff" stroke-width="0.54" fill="none">
<path d="M332.23 197.13V181.6M332.23 222.25V230.36" stroke-dasharray="4.8 2.4" stroke-width="0.5"/>
<path d="M331.13 181.6h2.2M331.13 230.36h2.2M330.13 211.75H334.33"/>
<rect x="330.13" y="197.13" width="4.2" height="25.12"/>
</g>
<path d="M36.2 280.2V295.3H72.7V280.2M80.4 280.2V295.3H117.6V280.2M124.5 280V294.7H161.1V280M166.9 280V294.2H203.6V280M210.6 279.3V294H247.7V279.3M253.6 279.4V294.1H290.8V279.4M295.2 280.5V294.6H332V280.5" stroke="#1a1a1a" stroke-width="0.9"/>
<text class="gl" x="53.95" y="309.5" text-anchor="middle" textLength="25.5" lengthAdjust="spacingAndGlyphs">Delta</text>
<text class="gl" x="99.25" y="309.5" text-anchor="middle" textLength="27.3" lengthAdjust="spacingAndGlyphs">Theta</text>
<text class="gl" x="143.3" y="308.9" text-anchor="middle" textLength="28" lengthAdjust="spacingAndGlyphs">Alpha</text>
<text class="gl" x="182.85" y="308.5" text-anchor="middle" textLength="21.5" lengthAdjust="spacingAndGlyphs">Beta</text>
<text class="gl" x="230.3" y="307.7" text-anchor="middle" textLength="37" lengthAdjust="spacingAndGlyphs">Gamma</text>
<text class="gl" x="273.25" y="307.8" text-anchor="middle" textLength="20.7" lengthAdjust="spacingAndGlyphs">HbO</text>
<text class="gl" x="313.35" y="308.5" text-anchor="middle" textLength="19.3" lengthAdjust="spacingAndGlyphs">HbR</text>
</g>
</svg>
</body>
</html>
